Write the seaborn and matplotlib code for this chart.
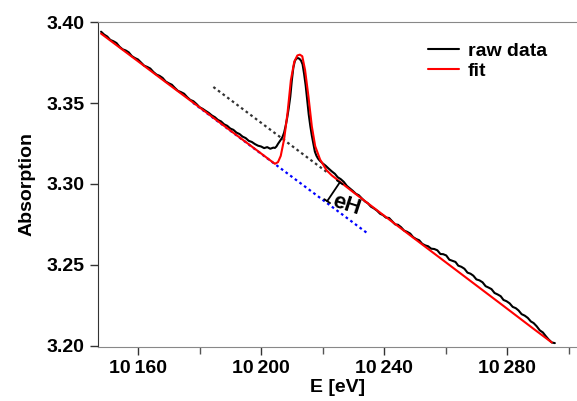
import matplotlib
matplotlib.use("Agg")
import matplotlib.pyplot as plt
import matplotlib.ticker as mticker
import seaborn as sns
import pandas as pd

# ── data ──────────────────────────────────────────────────────────────────────
raw_energy = [
    10148, 10149, 10150, 10151, 10152, 10153, 10154, 10155, 10156, 10157,
    10158, 10159, 10160, 10161, 10162, 10163, 10164, 10165, 10166, 10167,
    10168, 10169, 10170, 10171, 10172, 10173, 10174, 10175, 10176, 10177,
    10178, 10179, 10180, 10181, 10182, 10183, 10184, 10185, 10186, 10187,
    10188, 10189, 10190, 10191, 10192, 10193, 10194, 10195, 10196, 10197,
    10198, 10199, 10200, 10201, 10202, 10203, 10204, 10204.5, 10205, 10205.5,
    10206, 10206.5, 10207, 10207.5, 10208, 10208.5, 10209, 10209.5, 10210, 10210.5,
    10211, 10211.5, 10212, 10212.5, 10213, 10213.5, 10214, 10214.5, 10215, 10215.5,
    10216, 10216.5, 10217, 10217.5, 10218, 10218.5, 10219, 10219.5, 10220, 10221,
    10222, 10223.0, 10224.0, 10224.9, 10225.9, 10226.9, 10227.9, 10228.9, 10229.8, 10230.8,
    10231.8, 10232.8, 10233.8, 10234.7, 10235.7, 10236.7, 10237.7, 10238.7, 10239.6, 10240.6,
    10241.6, 10242.6, 10243.6, 10244.5, 10245.5, 10246.5, 10247.5, 10248.5, 10249.4, 10250.4,
    10251.4, 10252.4, 10253.4, 10254.3, 10255.3, 10256.3, 10257.3, 10258.3, 10259.2, 10260.2,
    10261.2, 10262.2, 10263.2, 10264.1, 10265.1, 10266.1, 10267.1, 10268.1, 10269.0, 10270.0,
    10271.0, 10272.0, 10273.0, 10273.9, 10274.9, 10275.9, 10276.9, 10277.9, 10278.8, 10279.8,
    10280.8, 10281.8, 10282.8, 10283.7, 10284.7, 10285.7, 10286.7, 10287.7, 10288.6, 10289.6,
    10290.6, 10291.6, 10292.6, 10293.5, 10294.5, 10295.5,
]
raw_absorption = [
    3.3942, 3.3924, 3.3912, 3.3891, 3.3883, 3.3872, 3.3849, 3.3833, 3.3826, 3.3814,
    3.3791, 3.3779, 3.3770, 3.3751, 3.3732, 3.3724, 3.3714, 3.3693, 3.3677, 3.3669,
    3.3656, 3.3634, 3.3623, 3.3614, 3.3594, 3.3576, 3.3568, 3.3558, 3.3537, 3.3520,
    3.3512, 3.3495, 3.3475, 3.3465, 3.3452, 3.3440, 3.3424, 3.3413, 3.3396, 3.3387,
    3.3369, 3.3360, 3.3343, 3.3335, 3.3318, 3.3309, 3.3293, 3.3284, 3.3267, 3.3260,
    3.3247, 3.3237, 3.3232, 3.3222, 3.3228, 3.3218, 3.3225, 3.3223, 3.3232, 3.3248,
    3.3262, 3.3276, 3.3292, 3.3318, 3.3360, 3.3410, 3.3470, 3.3540, 3.3640, 3.3720,
    3.3762, 3.3776, 3.3779, 3.3774, 3.3763, 3.3740, 3.3680, 3.3610, 3.3520, 3.3430,
    3.3360, 3.3300, 3.3250, 3.3200, 3.3175, 3.3158, 3.3146, 3.3137, 3.3128, 3.3113,
    3.3095, 3.3078, 3.3063, 3.3042, 3.3030, 3.3013, 3.2988, 3.2972, 3.2958, 3.2940,
    3.2930, 3.2910, 3.2892, 3.2881, 3.2860, 3.2849, 3.2835, 3.2816, 3.2808, 3.2792,
    3.2790, 3.2770, 3.2750, 3.2748, 3.2733, 3.2712, 3.2704, 3.2693, 3.2672, 3.2660,
    3.2652, 3.2630, 3.2620, 3.2615, 3.2600, 3.2598, 3.2590, 3.2567, 3.2566, 3.2558,
    3.2532, 3.2525, 3.2518, 3.2495, 3.2488, 3.2476, 3.2452, 3.2445, 3.2433, 3.2410,
    3.2404, 3.2392, 3.2368, 3.2360, 3.2350, 3.2326, 3.2317, 3.2306, 3.2283, 3.2275,
    3.2262, 3.2240, 3.2232, 3.2218, 3.2195, 3.2186, 3.2172, 3.2150, 3.2140, 3.2120,
    3.2095, 3.2082, 3.2058, 3.2038, 3.2020, 3.2016,
]

fit_energy = [
    10148, 10160, 10170, 10180, 10190, 10200, 10203, 10204.5, 10205.5, 10206.4,
    10207.5, 10208.6, 10209.7, 10210.8, 10211.8, 10212.6, 10213.4, 10214.3, 10215.4, 10216.5,
    10217.6, 10219.2, 10221.3, 10223.0, 10229.8, 10239.6, 10249.4, 10259.2, 10269.0, 10278.8,
    10288.6, 10294.5,
]
fit_absorption = [
    3.3930, 3.3759, 3.3616, 3.3474, 3.3331, 3.3189, 3.3146, 3.3125, 3.3135, 3.3174,
    3.3277, 3.3438, 3.3643, 3.3756, 3.3795, 3.3800, 3.3790, 3.3706, 3.3542, 3.3357,
    3.3234, 3.3151, 3.3085, 3.3053, 3.2952, 3.2810, 3.2669, 3.2528, 3.2387, 3.2246,
    3.2104, 3.2020,
]

# pre-edge (blue) and post-edge (black) extrapolations
pre_edge_energy = [10177.9, 10234.8]
pre_edge_absorption = [3.3502, 3.2692]
post_edge_energy = [10184.5, 10222.0]
post_edge_absorption = [3.3600, 3.3065]

# edge height marker
eh_energy = [10225.6, 10221.5]
eh_absorption = [3.3010, 3.2894]

x_ticks = [10160, 10200, 10240, 10280]
y_ticks = [3.20, 3.25, 3.30, 3.35, 3.40]

# ── style ─────────────────────────────────────────────────────────────────────
sns.set_style("ticks")
plt.rcParams["font.family"] = ["Liberation Sans", "DejaVu Sans"]
plt.rcParams["font.weight"] = "bold"
plt.rcParams["text.color"] = "black"
plt.rcParams["axes.labelcolor"] = "black"
FS = 14

df_raw = pd.DataFrame({"E": raw_energy, "A": raw_absorption})
df_fit = pd.DataFrame({"E": fit_energy, "A": fit_absorption})

fig = plt.figure(figsize=(5.77, 4.01), dpi=100)
ax = fig.add_axes([98 / 577, 1 - 346.5 / 401, 479 / 577, 325 / 401])

sns.lineplot(x=pre_edge_energy, y=pre_edge_absorption, ax=ax, color="#0000ff",
             linewidth=1.6, linestyle=(0, (1.2, 1.4)))
sns.lineplot(x=post_edge_energy, y=post_edge_absorption, ax=ax, color="#333333",
             linewidth=1.6, linestyle=(0, (1.2, 1.4)))
sns.lineplot(data=df_raw, x="E", y="A", ax=ax, color="black", linewidth=1.5,
             label="raw data", sort=False)
sns.lineplot(data=df_fit, x="E", y="A", ax=ax, color="#ff0000", linewidth=1.5,
             label="fit", sort=False)

ax.annotate("", xy=(eh_energy[1], eh_absorption[1]), xytext=(eh_energy[0], eh_absorption[0]),
            arrowprops=dict(arrowstyle="|-|, widthA=0.25, widthB=0.25", color="black", lw=1.3,
                            shrinkA=0, shrinkB=0))
ax.text(10227.6, 3.2872, "eH", fontsize=16, fontweight="bold", rotation=-18,
        ha="center", va="center", color="black")

ax.set_xlim(10147, 10302.7)
ax.set_ylim(3.1995, 3.4005)
ax.set_xticks(x_ticks)
ax.xaxis.set_minor_locator(mticker.FixedLocator([10180, 10220, 10260, 10300]))
ax.set_yticks(y_ticks)
ax.xaxis.set_major_formatter(mticker.FuncFormatter(
    lambda v, p: f"{int(v):,}".replace(",", "\u2009")))
ax.yaxis.set_major_formatter(mticker.FormatStrFormatter("%.2f"))
ax.tick_params(axis="both", which="major", labelsize=FS, length=6, width=1, colors="#333333",
               labelcolor="black")
ax.tick_params(axis="x", which="minor", length=5, width=1, colors="#555555")

for side in ["top", "bottom"]:
    ax.spines[side].set_color("#888888")
ax.spines["left"].set_color("#333333")
ax.spines["right"].set_visible(False)

ax.set_xlabel("E [eV]", fontsize=FS, fontweight="bold", labelpad=2)
ax.set_ylabel("Absorption", fontsize=FS, fontweight="bold", labelpad=8)

leg = ax.legend(loc="upper left", bbox_to_anchor=(0.689, 0.935), frameon=False,
                fontsize=FS, handlelength=1.6, handletextpad=0.45, labelspacing=0.1,
                borderpad=0, borderaxespad=0)
for t in leg.get_texts():
    t.set_fontweight("bold")
    t.set_color("black")

fig.savefig("out.png", dpi=100)
